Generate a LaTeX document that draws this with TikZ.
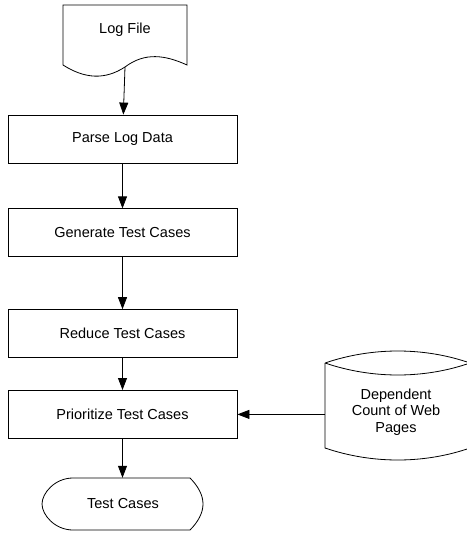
\documentclass[tikz,border=0pt]{standalone}
\usepackage{fontspec}
\setmainfont{Liberation Sans}
\usepackage{tikz}
\usetikzlibrary{arrows.meta,positioning}
\definecolor{ink}{HTML}{000000}

\begin{document}
\begin{tikzpicture}[
  x=1pt, y=1pt,
  node distance=45pt,
  every node/.style={font=\fontsize{14.5}{17.5}\selectfont, align=center, text=ink},
  box/.style={draw=ink, line width=0.8pt, minimum height=48pt, minimum width=229pt},
  outline/.style={draw=ink, line width=0.8pt, fill=white},
  arr/.style={-{Triangle[length=12pt, width=9pt]}, line width=0.8pt, draw=ink}
]
\useasboundingbox (0,0) rectangle (466,-534);
% document shape
\draw[outline] (63,-5) -- (187,-5) -- (187,-65)
  .. controls (165,-55) and (145,-52) .. (125,-67)
  .. controls (105,-80) and (85,-79) .. (63,-65) -- cycle;
\coordinate (logout) at (125,-67);
\node (logfile) at (125,-30) {Log File};
% process boxes
\node[box] (parse) at (122.5,-139) {Parse Log Data};
\node[box, below=45pt of parse] (gen) {Generate Test Cases};
\node[box, below=52pt of gen] (reduce) {Reduce Test Cases};
\node[box, below=32pt of reduce] (prio) {Prioritize Test Cases};
% stored data
\draw[outline] (325,-363) -- (325,-448)
  .. controls (372,-464) and (424,-464) .. (470,-448) -- (470,-363);
\draw[outline] (325,-363) .. controls (372,-347) and (424,-347) .. (470,-363)
  .. controls (424,-379) and (372,-379) .. (325,-363);
\node[minimum width=142pt] (pages) at (396,-412) {Dependent\\[-1pt]Count of Web\\[-1pt]Pages};
% display shape
\draw[outline] (73,-478) -- (190,-478)
  .. controls (198,-486) and (203,-495) .. (203,-504)
  .. controls (203,-513) and (198,-522) .. (190,-530) -- (73,-530)
  .. controls (55,-530) and (42,-515) .. (42,-504)
  .. controls (42,-493) and (55,-478) .. (73,-478);
\node[minimum height=52pt] (cases) at (123,-504) {Test Cases};
\draw[arr] (logout) -- (parse);
\draw[arr] (parse) -- (gen);
\draw[arr] (gen) -- (reduce);
\draw[arr] (reduce) -- (prio);
\draw[arr] (pages.west |- prio.east) -- (prio.east);
\draw[arr] (prio.south) -- (prio.south |- cases.north);
\end{tikzpicture}
\end{document}
